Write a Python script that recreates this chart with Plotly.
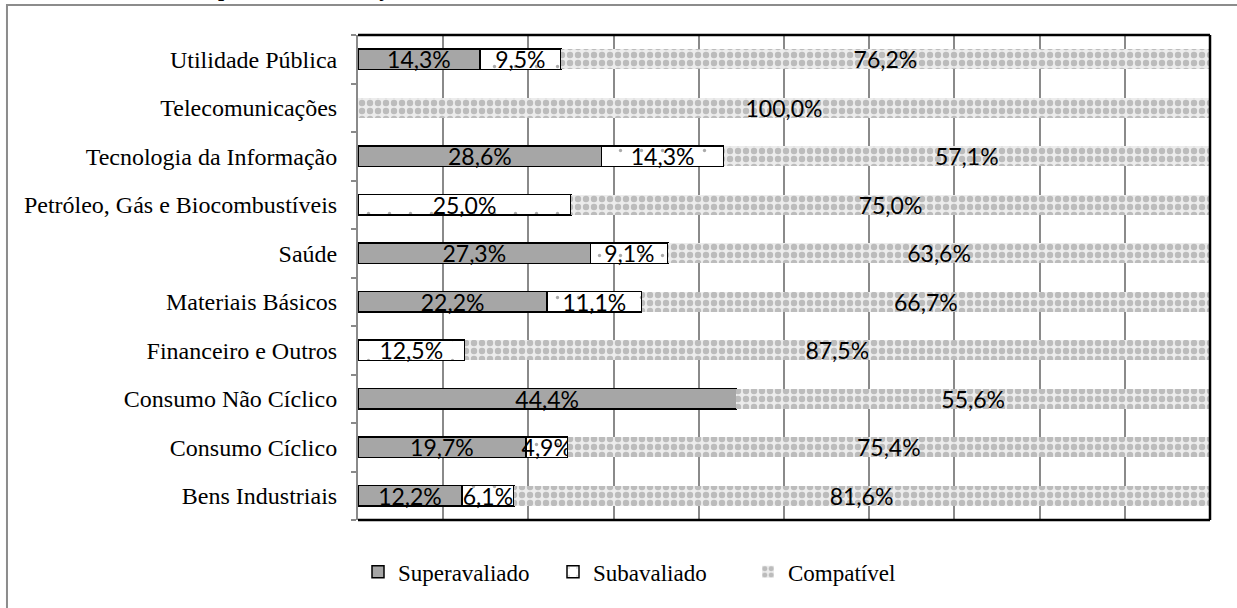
import plotly.graph_objects as go

categories = ["Bens Industriais", "Consumo Cíclico", "Consumo Não Cíclico",
              "Financeiro e Outros", "Materiais Básicos", "Saúde",
              "Petróleo, Gás e Biocombustíveis", "Tecnologia da Informação",
              "Telecomunicações", "Utilidade Pública"]
superavaliado = [12.2, 19.7, 44.4, 0.0, 22.2, 27.3, 0.0, 28.6, 0.0, 14.3]
subavaliado = [6.1, 4.9, 0.0, 12.5, 11.1, 9.1, 25.0, 14.3, 0.0, 9.5]
compativel = [81.6, 75.4, 55.6, 87.5, 66.7, 63.6, 75.0, 57.1, 100.0, 76.2]
series_names = ["Superavaliado", "Subavaliado", "Compatível"]
title_fragment = ", por setor de atuação"


def fmt(v):
    return "" if v == 0 else f"{v:.1f}%".replace(".", ",")


serif = "'Liberation Serif', 'Times New Roman', serif"
label_font = dict(family="Lato, 'Open Sans', sans-serif", size=23, color="#000")

fig = go.Figure()
fig.add_trace(go.Bar(
    y=categories, x=superavaliado, orientation="h", name=series_names[0],
    text=[fmt(v) for v in superavaliado],
    marker=dict(color="#a6a6a6", line=dict(color="#000", width=1.5)),
))
fig.add_trace(go.Bar(
    y=categories, x=subavaliado, orientation="h", name=series_names[1],
    text=[fmt(v) for v in subavaliado],
    marker=dict(color="#ffffff", line=dict(color="#000", width=1.5),
                pattern=dict(shape=".", size=21, solidity=0.02,
                             fgcolor="#555555", bgcolor="#ffffff", fillmode="overlay")),
))
fig.add_trace(go.Bar(
    y=categories, x=compativel, orientation="h", name=series_names[2],
    text=[fmt(v) for v in compativel],
    marker=dict(color="#e6e6e6", line=dict(width=0),
                pattern=dict(shape=".", size=8, solidity=0.5,
                             fgcolor="#bcbcbc", bgcolor="#ececec", fillmode="replace")),
))
fig.update_traces(textposition="inside", insidetextanchor="middle",
                  constraintext="none", textfont=label_font,
                  insidetextfont=label_font, cliponaxis=False)

frame = dict(type="line", xref="paper", yref="paper", line=dict(color="#000", width=2.5), layer="above")
shapes = [
    dict(frame, x0=0, x1=1, y0=1, y1=1),
    dict(frame, x0=1, x1=1, y0=0, y1=1),
    dict(frame, x0=0, x1=1, y0=0, y1=0),
    dict(type="rect", xref="paper", yref="paper", x0=-0.412, x1=1.2, y0=-0.4, y1=1.062,
         line=dict(color="#8c8c8c", width=2), layer="below"),
]

fig.update_layout(
    width=1237, height=608,
    margin=dict(l=358, r=27, t=35, b=88),
    paper_bgcolor="#ffffff", plot_bgcolor="#ffffff",
    barmode="stack", bargap=0.58,
    showlegend=True,
    legend=dict(orientation="h", x=0.0, xanchor="left", y=-0.107, yanchor="middle",
                font=dict(family=serif, size=23, color="#000"),
                entrywidth=150, entrywidthmode="pixels", itemwidth=30,
                traceorder="normal", bgcolor="rgba(0,0,0,0)"),
    xaxis=dict(range=[0, 100], dtick=10, showticklabels=False, showgrid=True,
               gridcolor="#8a8a8a", gridwidth=1.5, zeroline=False, showline=False, ticks=""),
    yaxis=dict(categoryorder="array", categoryarray=categories, showline=True,
               linecolor="#8a8a8a", linewidth=2, ticks="outside", ticklen=5,
               tickcolor="#8a8a8a", tickwidth=1.5, tickson="boundaries",
               ticklabelstandoff=14, showgrid=False, zeroline=False,
               tickfont=dict(family=serif, size=24, color="#000")),
    shapes=shapes,
    annotations=[dict(text=title_fragment, xref="paper", yref="paper",
                      x=-0.18, y=1.067, xanchor="left", yanchor="bottom",
                      showarrow=False,
                      font=dict(family=serif, size=22, color="#000", weight="bold"))],
)

fig.write_html("out.html", config={"displayModeBar": False},
               post_script="document.body.style.margin='0px';")
